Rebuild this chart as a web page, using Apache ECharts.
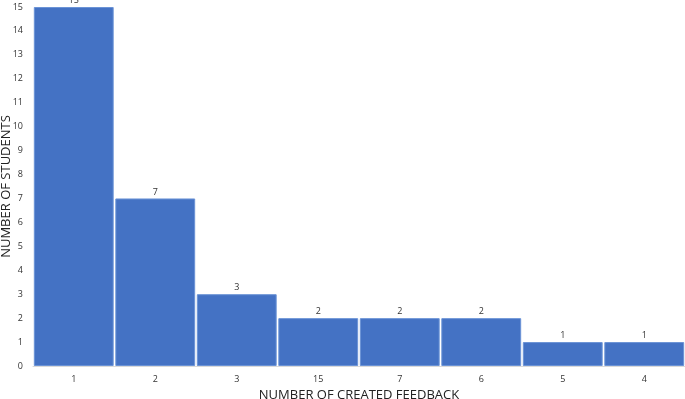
<!DOCTYPE html>
<html>
<head>
<meta charset="utf-8">
<script src="https://cdn.jsdelivr.net/npm/echarts@6/dist/echarts.min.js"></script>
<style>
  html, body { margin: 0; padding: 0; background: #fff; }
  #chart { width: 685px; height: 399px; }
</style>
</head>
<body>
<div id="chart"></div>
<script>
// categories on the x axis (number of created feedback)
var categories = ["1", "2", "3", "15", "7", "6", "5", "4"];
// number of students per category
var students = [15, 7, 3, 2, 2, 2, 1, 1];

var chart = echarts.init(document.getElementById("chart"));

var option = {
    backgroundColor: "#fff",
    animation: false,
    grid: {
        left: 33,
        right: 0,
        top: 7,
        bottom: 33,
        outerBoundsMode: "none",
        containLabel: false
    },
    xAxis: {
        type: "category",
        data: categories,
        name: "NUMBER OF CREATED FEEDBACK",
        nameLocation: "middle",
        nameGap: 23,
        nameMoveOverlap: false,
        nameTextStyle: {
            fontFamily: "Open Sans",
            fontSize: 13,
            color: "#222"
        },
        axisLine: { lineStyle: { color: "#d9d9d9" } },
        axisTick: { show: false },
        axisLabel: {
            fontFamily: "Open Sans",
            fontSize: 9,
            color: "#333",
            margin: 9
        }
    },
    yAxis: {
        type: "value",
        min: 0,
        max: 15,
        interval: 1,
        name: "NUMBER OF STUDENTS",
        nameLocation: "middle",
        nameGap: 20,
        nameMoveOverlap: false,
        nameTextStyle: {
            fontFamily: "Open Sans",
            fontSize: 13,
            color: "#222"
        },
        splitLine: { show: false },
        axisLine: { show: false },
        axisTick: { show: false },
        axisLabel: {
            fontFamily: "Open Sans",
            fontSize: 9,
            color: "#333",
            margin: 10
        }
    },
    series: [{
        type: "bar",
        data: students,
        barCategoryGap: "2%",
        itemStyle: {
            color: "#4472c4",
            borderColor: "#6b93d6",
            borderWidth: 1
        },
        label: {
            show: true,
            position: "top",
            distance: 2,
            fontFamily: "Open Sans",
            fontSize: 9,
            color: "#333"
        }
    }]
};

chart.setOption(option);
</script>
</body>
</html>
